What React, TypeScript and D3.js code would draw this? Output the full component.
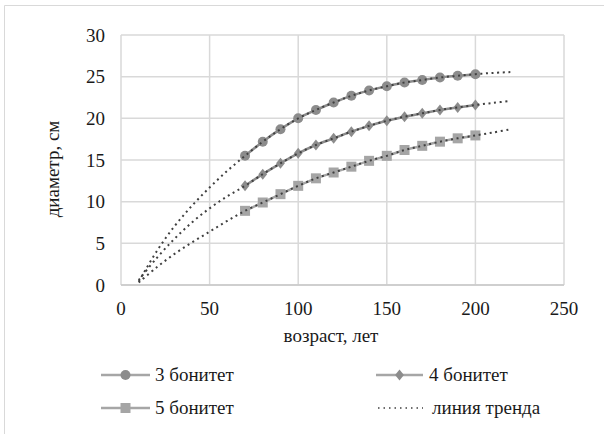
import React from "react";
import * as d3 from "d3";

const ages = [70, 80, 90, 100, 110, 120, 130, 140, 150, 160, 170, 180, 190, 200];
const bon3 = [15.5, 17.2, 18.7, 20.0, 21.0, 21.9, 22.7, 23.35, 23.85, 24.3, 24.6, 24.9, 25.1, 25.3];
const bon4 = [11.9, 13.3, 14.6, 15.8, 16.8, 17.6, 18.4, 19.1, 19.7, 20.2, 20.6, 21.0, 21.3, 21.6];
const bon5 = [8.9, 9.9, 10.9, 11.9, 12.8, 13.5, 14.2, 14.9, 15.5, 16.2, 16.7, 17.2, 17.6, 17.95];

const trendHeadAges = [10, 20, 30, 40, 50, 60];
const trendTailAges = [210, 220];
const trendHead3 = [0.4, 4.0, 7.0, 9.5, 11.7, 13.7];
const trendTail3 = [25.45, 25.55];
const trendHead4 = [0.6, 3.2, 5.5, 7.5, 9.2, 10.65];
const trendTail4 = [21.85, 22.1];
const trendHead5 = [0.3, 2.1, 3.7, 5.1, 6.4, 7.7];
const trendTail5 = [18.3, 18.7];

const xTicks = [0, 50, 100, 150, 200, 250];
const yTicks = [0, 5, 10, 15, 20, 25, 30];
const seriesNames = ["3 бонитет", "4 бонитет", "5 бонитет"];
const trendName = "линия тренда";
const xTitle = "возраст, лет";
const yTitle = "диаметр, см";

const W = 604;
const H = 434;
const FS = 19;
const txt = { fontFamily: '"Liberation Serif"', fontSize: FS, fill: "#1a1a1a" } as React.CSSProperties;

export default function App() {
  const x = d3.scaleLinear().domain([0, 250]).range([121, 564]);
  const y = d3.scaleLinear().domain([0, 30]).range([285, 35]);

  const line = d3
    .line<[number, number]>()
    .x((d) => x(d[0]))
    .y((d) => y(d[1]))
    .curve(d3.curveCatmullRom.alpha(0.5));

  const mk = (vals: number[]) => ages.map((a, i) => [a, vals[i]] as [number, number]);
  const mkTrend = (head: number[], vals: number[], tail: number[]) => [
    ...trendHeadAges.map((a, i) => [a, head[i]] as [number, number]),
    ...mk(vals),
    ...trendTailAges.map((a, i) => [a, tail[i]] as [number, number]),
  ];

  const series = [
    { vals: bon3, color: "#8c8c8c", line: "#8c8c8c", shape: "circle", trend: mkTrend(trendHead3, bon3, trendTail3) },
    { vals: bon4, color: "#8c8c8c", line: "#8c8c8c", shape: "diamond", trend: mkTrend(trendHead4, bon4, trendTail4) },
    { vals: bon5, color: "#a5a5a5", line: "#a5a5a5", shape: "square", trend: mkTrend(trendHead5, bon5, trendTail5) },
  ];

  const marker = (shape: string, cx: number, cy: number, color: string, key: any, s = 1) => {
    if (shape === "circle") return <circle key={key} cx={cx} cy={cy} r={5 * s} fill={color} />;
    if (shape === "square")
      return <rect key={key} x={cx - 5 * s} y={cy - 5 * s} width={10 * s} height={10 * s} fill={color} />;
    const r = 5.5 * s;
    return (
      <path key={key} d={`M${cx},${cy - r}L${cx + r * 0.8},${cy}L${cx},${cy + r}L${cx - r * 0.8},${cy}Z`} fill={color} />
    );
  };

  const legendItems = [
    { x0: 101, x1: 150, tx: 155, y: 375, s: 0 },
    { x0: 376, x1: 423, tx: 429, y: 375, s: 1 },
    { x0: 101, x1: 150, tx: 155, y: 408, s: 2 },
  ];

  return (
    <svg width={W} height={H} style={{ position: "absolute", left: 0, top: 0, background: "#fff" }}>
      <rect x={0} y={0} width={W} height={H} fill="#fff" />
      <line x1={4.5} y1={5.5} x2={W} y2={5.5} stroke="#d9d9d9" strokeWidth={1} />
      <line x1={4.5} y1={5.5} x2={4.5} y2={H} stroke="#d9d9d9" strokeWidth={1} />

      {yTicks.map((t) => (
        <line key={"gy" + t} x1={x(0)} x2={x(250)} y1={y(t)} y2={y(t)} stroke="#d9d9d9" strokeWidth={1.5} />
      ))}
      {xTicks.map((t) => (
        <line key={"gx" + t} x1={x(t)} x2={x(t)} y1={y(0)} y2={y(30)} stroke="#d9d9d9" strokeWidth={1.5} />
      ))}
      <line x1={x(0)} x2={x(250)} y1={y(0)} y2={y(0)} stroke="#c8c8c8" strokeWidth={1.5} />

      {yTicks.map((t) => (
        <text key={"ty" + t} x={105} y={y(t) + 6.5} textAnchor="end" style={txt}>
          {t}
        </text>
      ))}
      {xTicks.map((t) => (
        <text key={"tx" + t} x={x(t)} y={314.5} textAnchor="middle" style={txt}>
          {t}
        </text>
      ))}

      <text x={331} y={342} textAnchor="middle" style={txt}>
        {xTitle}
      </text>
      <text transform={`translate(59,169) rotate(-90)`} textAnchor="middle" style={txt}>
        {yTitle}
      </text>

      {series.map((s, si) => (
        <g key={"s" + si}>
          <path d={line(mk(s.vals)) || ""} fill="none" stroke={s.line} strokeWidth={2.5} />
          {s.vals.map((v, i) => marker(s.shape, x(ages[i]), y(v), s.color, i))}
        </g>
      ))}
      {series.map((s, si) => (
        <path
          key={"t" + si}
          d={line(s.trend) || ""}
          fill="none"
          stroke="#404040"
          strokeWidth={2}
          strokeDasharray="2 3.6"
        />
      ))}

      {legendItems.map((li, i) => (
        <g key={"l" + i}>
          <line x1={li.x0} x2={li.x1} y1={li.y} y2={li.y} stroke="#a6a6a6" strokeWidth={2.5} />
          {marker(series[li.s].shape, (li.x0 + li.x1) / 2, li.y, series[li.s].color, "m" + i)}
          <text x={li.tx} y={li.y + 5.5} style={txt}>
            {seriesNames[li.s]}
          </text>
        </g>
      ))}
      <line x1={378} x2={423} y1={408} y2={408} stroke="#404040" strokeWidth={1.5} strokeDasharray="1.5 4" />
      <text x={432} y={413.5} style={txt}>
        {trendName}
      </text>
    </svg>
  );
}
